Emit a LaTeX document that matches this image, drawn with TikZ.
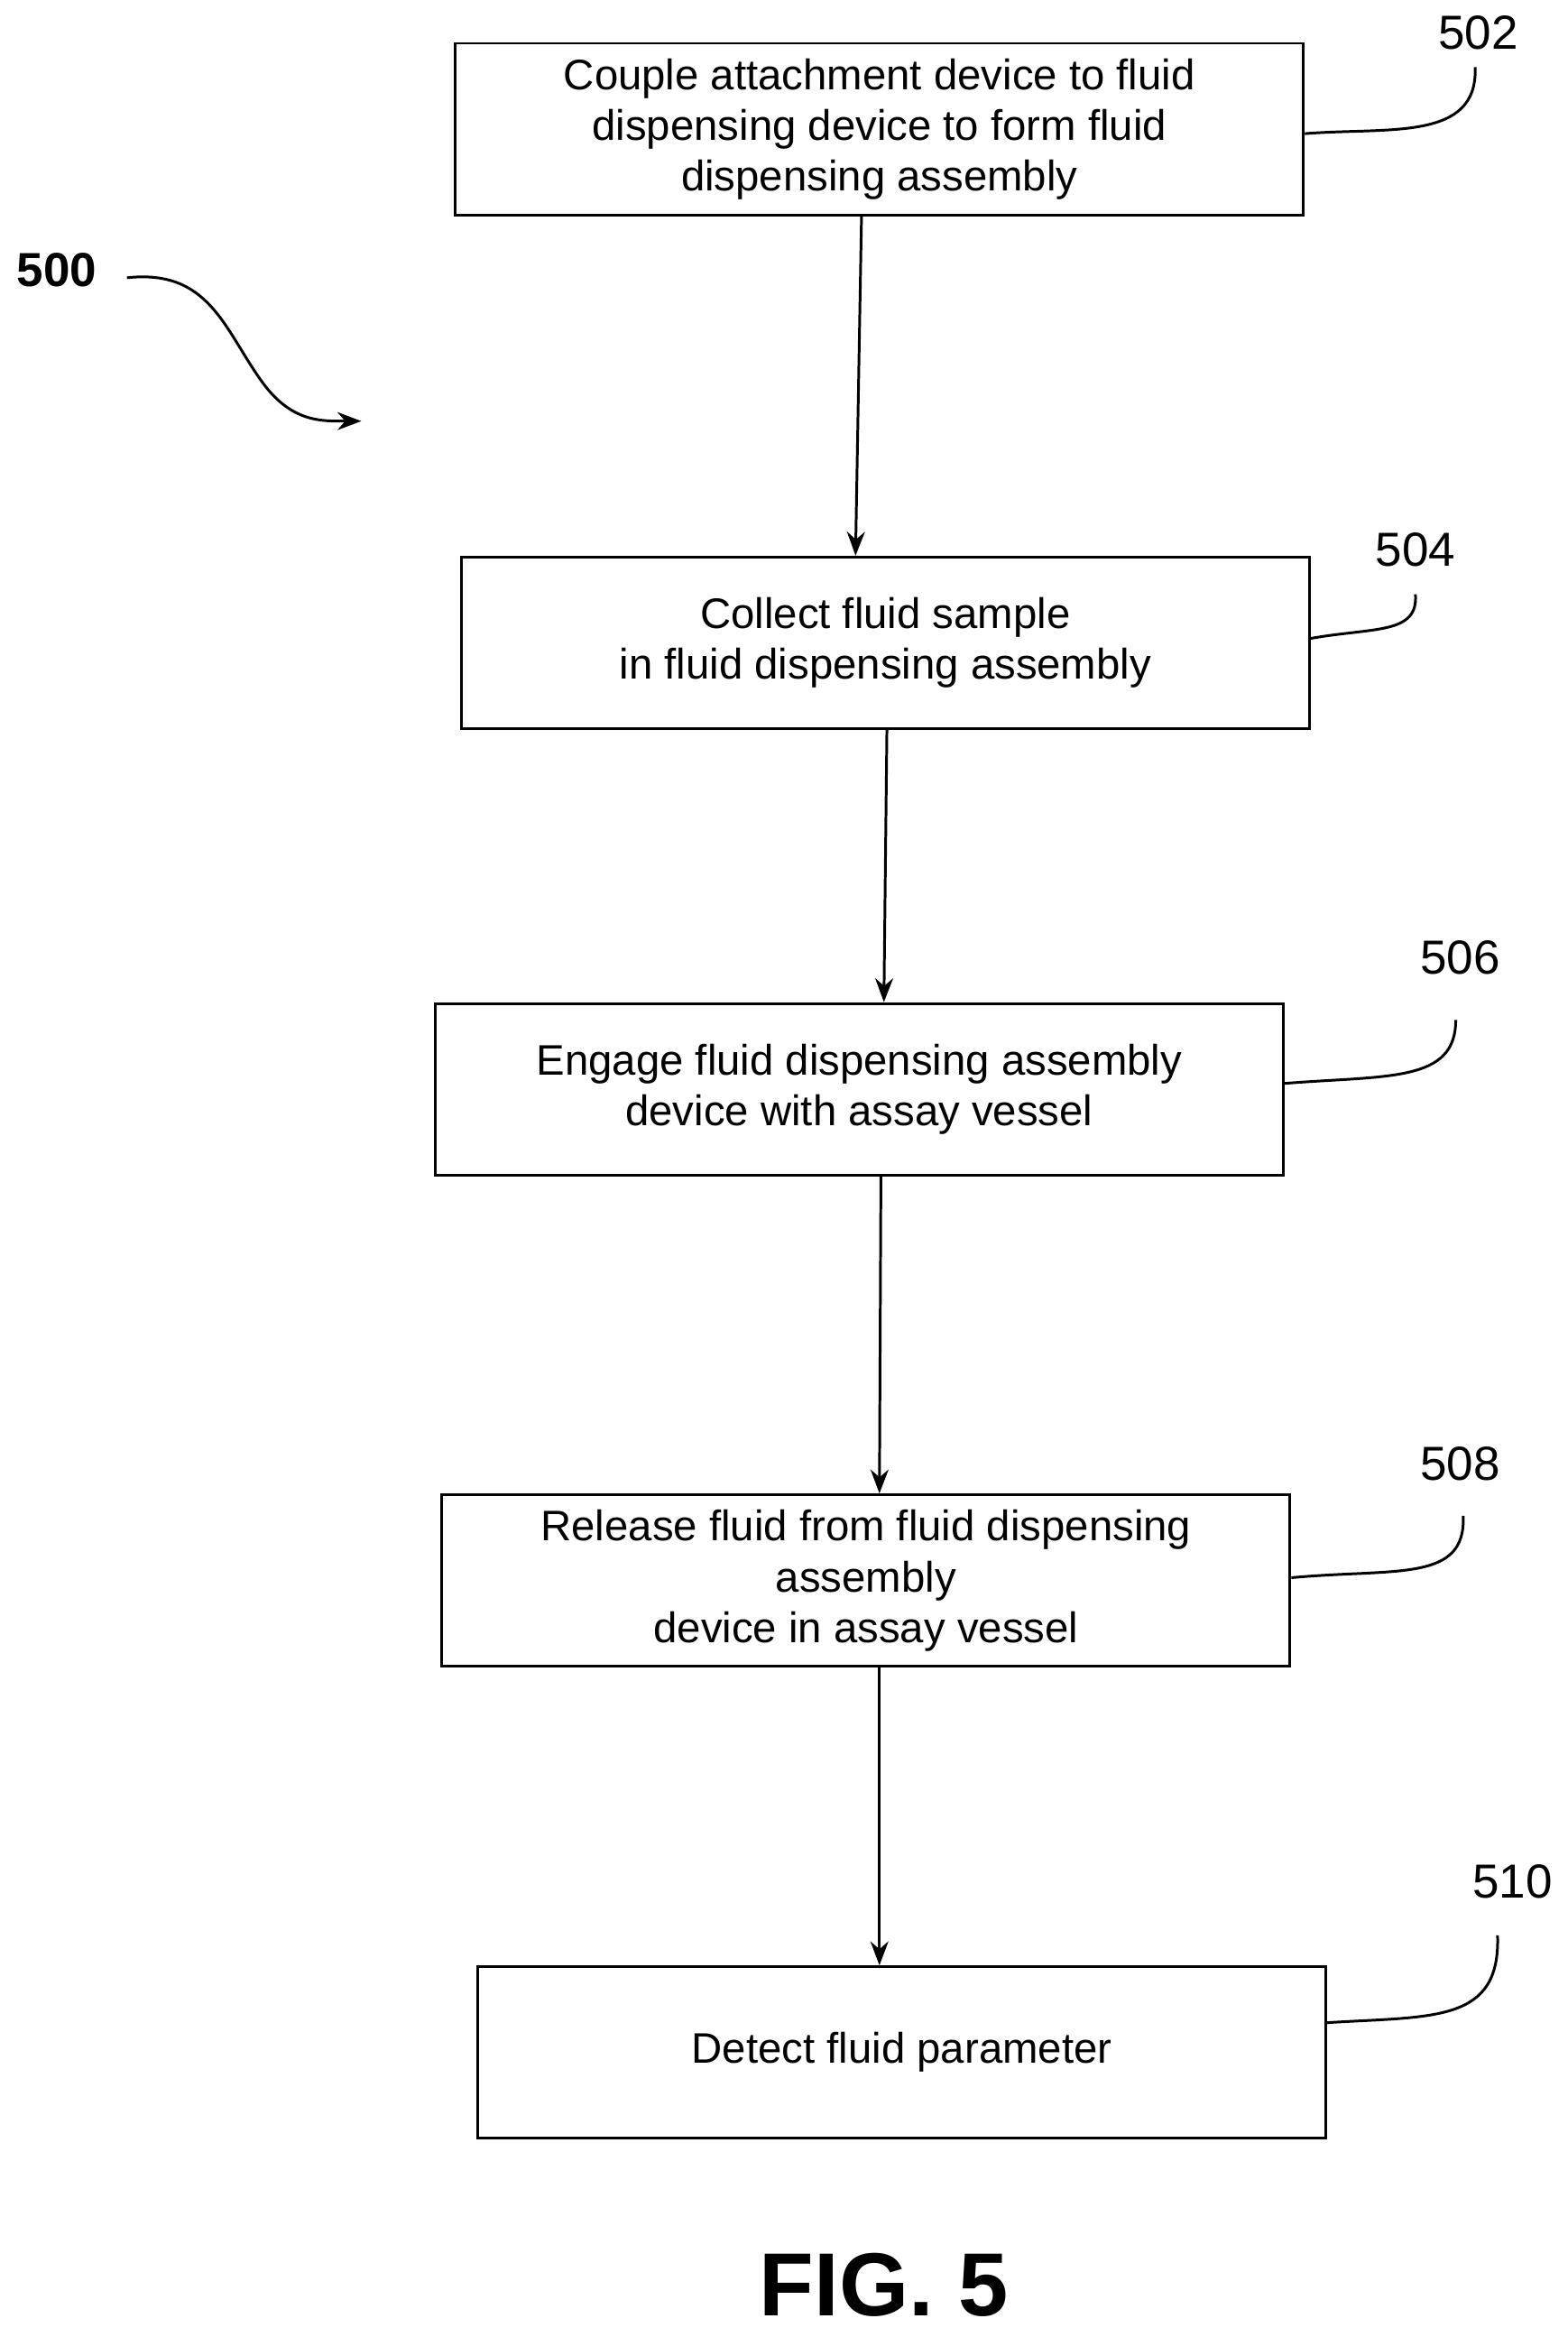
\documentclass[tikz,border=0pt]{standalone}
\usepackage{fontspec}
\setmainfont{Liberation Sans}
\usetikzlibrary{calc,arrows.meta}
\tikzset{
  stepbox/.style={draw,line width=0.9pt,minimum width=284pt,minimum height=57.5pt,align=center,inner sep=2pt,font=\fontsize{14.3}{17}\selectfont},
  num/.style={font=\fontsize{16}{19}\selectfont},
  flow/.style={-{Stealth[length=8pt,width=6pt]},line width=0.9pt},
  lead/.style={line width=0.9pt}
}
\begin{document}
\begin{tikzpicture}[x=0.5pt,y=-0.5pt]
\useasboundingbox (0,0) rectangle (1050,1565);

% Steps
\node[stepbox] (s502) at (589,86.5) {Couple attachment device to fluid\\dispensing device to form fluid\\dispensing assembly};
\node[stepbox] (s504) at (593,430.5) {Collect fluid sample\\in fluid dispensing assembly};
\node[stepbox] (s506) at (575.5,729.5) {Engage fluid dispensing assembly\\device with assay vessel};
\node[stepbox] (s508) at (580,1058.5) {Release fluid from fluid dispensing\\assembly\\device in assay vessel};
\node[stepbox] (s510) at (604,1374.5) {Detect fluid parameter};

% Arrows
\draw[flow] ($(s502.south)+(-12,0)$) -- ($(s504.north)+(-20,0)$);
\draw[flow] ($(s504.south)+(1,0)$) -- ($(s506.north)+(16.5,0)$);
\draw[flow] ($(s506.south)+(14.5,0)$) -- ($(s508.north)+(9,0)$);
\draw[flow] ($(s508.south)+(9,0)$) -- ($(s510.north)+(-15,0)$);

% Reference numerals
\node[num] (n502) at (990,22) {502};
\node[num] (n504) at (948,368) {504};
\node[num] (n506) at (978,641) {506};
\node[num] (n508) at (978,980) {508};
\node[num] (n510) at (1013,1260) {510};
\draw[lead] ($(s502.east)+(0,3)$) .. controls (930,85) and (990,95) .. (988,45);
\draw[lead] ($(s504.east)+(0,-3)$) .. controls (920,420) and (950,425) .. (948,398);
\draw[lead] ($(s506.east)+(0,-4)$) .. controls (930,720) and (975,725) .. (975,683);
\draw[lead] ($(s508.east)+(0,-2)$) .. controls (935,1050) and (982,1060) .. (980,1015);
\draw[lead] ($(s510.east)+(0,-20)$) .. controls (960,1350) and (1005,1355) .. (1003,1296);

% Figure label
\node[font=\fontsize{16}{19}\selectfont\bfseries] (n500) at (38,181) {500};
\coordinate (c500) at (242,282);
\draw[flow] (85,186) .. controls (140,180) and (150,220) .. (175,255) .. controls (195,283) and (215,282) .. (c500);
\node[font=\fontsize{30}{34}\selectfont\bfseries] (fig) at (592,1530) {FIG. 5};
\end{tikzpicture}
\end{document}
